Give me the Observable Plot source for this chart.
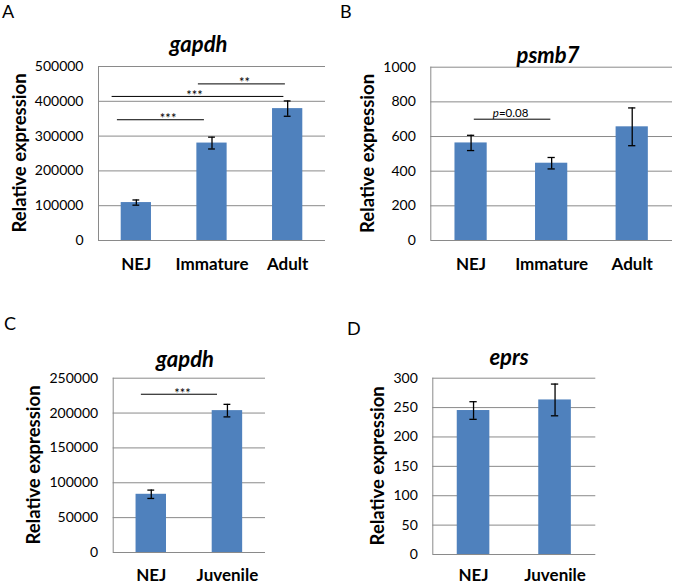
<!DOCTYPE html>
<html>
<head>
<meta charset="utf-8">
<script src="https://cdn.jsdelivr.net/npm/d3@7"></script>
<script src="https://cdn.jsdelivr.net/npm/@observablehq/plot@0.6"></script>
<style>
  body { margin: 0; background: #fff; }
  #fig { position: relative; width: 673px; height: 585px; font-family: Lato, "Open Sans", sans-serif; }
  #fig svg { position: absolute; }
</style>
</head>
<body>
<div id="fig"></div>
<script>
// ---------- data ----------
const categoriesAB = ["NEJ", "Immature", "Adult"];
const categoriesCD = ["NEJ", "Juvenile"];

const gapdhA_mean = [109000, 280000, 379000];
const gapdhA_err  = [7500, 17000, 22000];
const psmb7_mean  = [563, 446, 656];
const psmb7_err   = [44, 33, 109];
const gapdhC_mean = [83500, 203500];
const gapdhC_err  = [6000, 9000];
const eprs_mean   = [245, 263];
const eprs_err    = [15, 27];

const yTicksA = [0, 100000, 200000, 300000, 400000, 500000];
const yTicksB = [0, 200, 400, 600, 800, 1000];
const yTicksC = [0, 50000, 100000, 150000, 200000, 250000];
const yTicksD = [0, 50, 100, 150, 200, 250, 300];

// significance annotations (x in category-index units)
const sigA_label = ["***", "***", "**"];
const sigA_y     = [347000, 414000, 450000];
const sigA_from  = [-0.25, -0.32, 0.82];
const sigA_to    = [0.90, 1.95, 1.97];
const sigA_textX = [0.42, 0.77, 1.43];

const sigB_label = ["p=0.08"];
const sigB_y     = [700];
const sigB_from  = [0.04];
const sigB_to    = [0.99];
const sigB_textX = [0.49];

const sigC_label = ["***"];
const sigC_y     = [227000];
const sigC_from  = [-0.13];
const sigC_to    = [0.87];
const sigC_textX = [0.41];

const panelLetters = ["A", "B", "C", "D"];
const geneTitles = ["gapdh", "psmb7", "gapdh", "eprs"];
const yAxisLabel = "Relative expression";

// ---------- drawing ----------
const FONT = "Lato, 'Open Sans', sans-serif";
const GRAY = "#8a8a8a";
const BAR = "#4F81BD";
const fig = document.getElementById("fig");

function sig(labels, ys, from, to, tx) {
  return labels.map((label, k) => ({label, y: ys[k], x1: from[k], x2: to[k], tx: tx[k]}));
}

function panel(cfg) {
  const {cats, means, errs, ticks, sigs, left, top, width, height, margin, sigFont, sigDy, xPad} = cfg;
  const rows = cats.map((c, i) => ({i, cat: c, v: means[i], e: errs[i]}));
  const yMax = ticks[ticks.length - 1];
  const cap = 0.045;
  const svg = Plot.plot({
    width, height,
    marginTop: margin[0], marginRight: margin[1], marginBottom: margin[2], marginLeft: margin[3],
    style: {fontFamily: FONT, color: "#000", background: "transparent", overflow: "visible"},
    x: {type: "linear", domain: [-0.5, cats.length - 0.5]},
    y: {domain: [0, yMax]},
    marks: [
      Plot.gridY(ticks, {stroke: GRAY, strokeOpacity: 1, strokeWidth: 1}),
      Plot.ruleX([-0.5], {stroke: GRAY, strokeWidth: 1}),
      Plot.rectY(rows, {x1: d => d.i - 0.2, x2: d => d.i + 0.2, y1: 0, y2: "v", fill: BAR}),
      Plot.ruleX(rows, {x: "i", y1: d => d.v - d.e, y2: d => d.v + d.e, stroke: "#000", strokeWidth: 1.3}),
      Plot.ruleY(rows, {y: d => d.v + d.e, x1: d => d.i - cap, x2: d => d.i + cap, stroke: "#000", strokeWidth: 1.3}),
      Plot.ruleY(rows, {y: d => d.v - d.e, x1: d => d.i - cap, x2: d => d.i + cap, stroke: "#000", strokeWidth: 1.3}),
      Plot.axisY(ticks, {tickSize: 0, tickPadding: 15, fontSize: 14, tickFormat: d => String(d), label: null}),
      Plot.axisX(cats.map((c, i) => i), {tickSize: 0, tickPadding: xPad, fontSize: 17, fontWeight: "bold", tickFormat: i => cats[i], label: null}),
      Plot.ruleY(sigs, {y: "y", x1: "x1", x2: "x2", stroke: "#000", strokeWidth: 1}),
      Plot.text(sigs, {x: "tx", y: "y", text: "label", lineAnchor: "bottom", dy: sigDy, fontSize: sigFont})
    ]
  });
  svg.style.left = left + "px";
  svg.style.top = top + "px";
  // italic "p" in p-value labels
  d3.select(svg).selectAll("text").each(function () {
    const t = this.textContent;
    if (/^p=/.test(t) && this.children.length === 0) {
      const el = d3.select(this);
      el.text(null);
      el.append("tspan").attr("font-style", "italic").text("p");
      el.append("tspan").text(t.slice(1));
    }
  });
  fig.appendChild(svg);
}

panel({cats: categoriesAB, means: gapdhA_mean, errs: gapdhA_err, ticks: yTicksA,
  sigs: sig(sigA_label, sigA_y, sigA_from, sigA_to, sigA_textX),
  left: 0, top: 0, width: 336, height: 292, margin: [66, 11, 52, 98], sigFont: 13, sigDy: 3.5, xPad: 17});
panel({cats: categoriesAB, means: psmb7_mean, errs: psmb7_err, ticks: yTicksB,
  sigs: sig(sigB_label, sigB_y, sigB_from, sigB_to, sigB_textX),
  left: 336, top: 0, width: 337, height: 292, margin: [66.7, 1, 52, 94.3], sigFont: 11.5, sigDy: -2.5, xPad: 17});
panel({cats: categoriesCD, means: gapdhC_mean, errs: gapdhC_err, ticks: yTicksC,
  sigs: sig(sigC_label, sigC_y, sigC_from, sigC_to, sigC_textX),
  left: 0, top: 292, width: 336, height: 293, margin: [85.7, 71, 33, 112.7], sigFont: 13, sigDy: 3.5, xPad: 16});
panel({cats: categoriesCD, means: eprs_mean, errs: eprs_err, ticks: yTicksD,
  sigs: [],
  left: 336, top: 292, width: 337, height: 293, margin: [85.7, 77.7, 31, 96.3], sigFont: 13, sigDy: 3.5, xPad: 14});

// overlay: panel letters, gene titles, y-axis titles
const ov = d3.select(fig).append("svg")
  .attr("width", 673).attr("height", 585)
  .style("left", "0px").style("top", "0px")
  .style("font-family", FONT);
const letterPos = [[2, 18], [340, 18], [4, 330], [347, 335]];
ov.selectAll("text.letter").data(panelLetters).join("text")
  .attr("class", "letter")
  .attr("x", (d, i) => letterPos[i][0]).attr("y", (d, i) => letterPos[i][1])
  .attr("font-size", 18).text(d => d);
const titlePos = [[198.5, 51.5], [548, 63], [185, 366.5], [509, 365]];
ov.selectAll("text.title").data(geneTitles).join("text")
  .attr("class", "title")
  .attr("x", (d, i) => titlePos[i][0]).attr("y", (d, i) => titlePos[i][1])
  .attr("text-anchor", "middle").attr("font-size", 22)
  .attr("font-weight", "bold").attr("font-style", "italic").text(d => d);
const ylabPos = [[20, 153], [367.7, 153.5], [33.3, 465], [377.7, 465.8]];
ov.selectAll("text.ylab").data(ylabPos).join("text")
  .attr("class", "ylab")
  .attr("transform", d => `translate(${d[0]},${d[1]}) rotate(-90)`)
  .attr("text-anchor", "middle").attr("dy", "0.35em")
  .attr("font-size", 18.5).attr("font-weight", "bold")
  .text(yAxisLabel);
</script>
</body>
</html>
